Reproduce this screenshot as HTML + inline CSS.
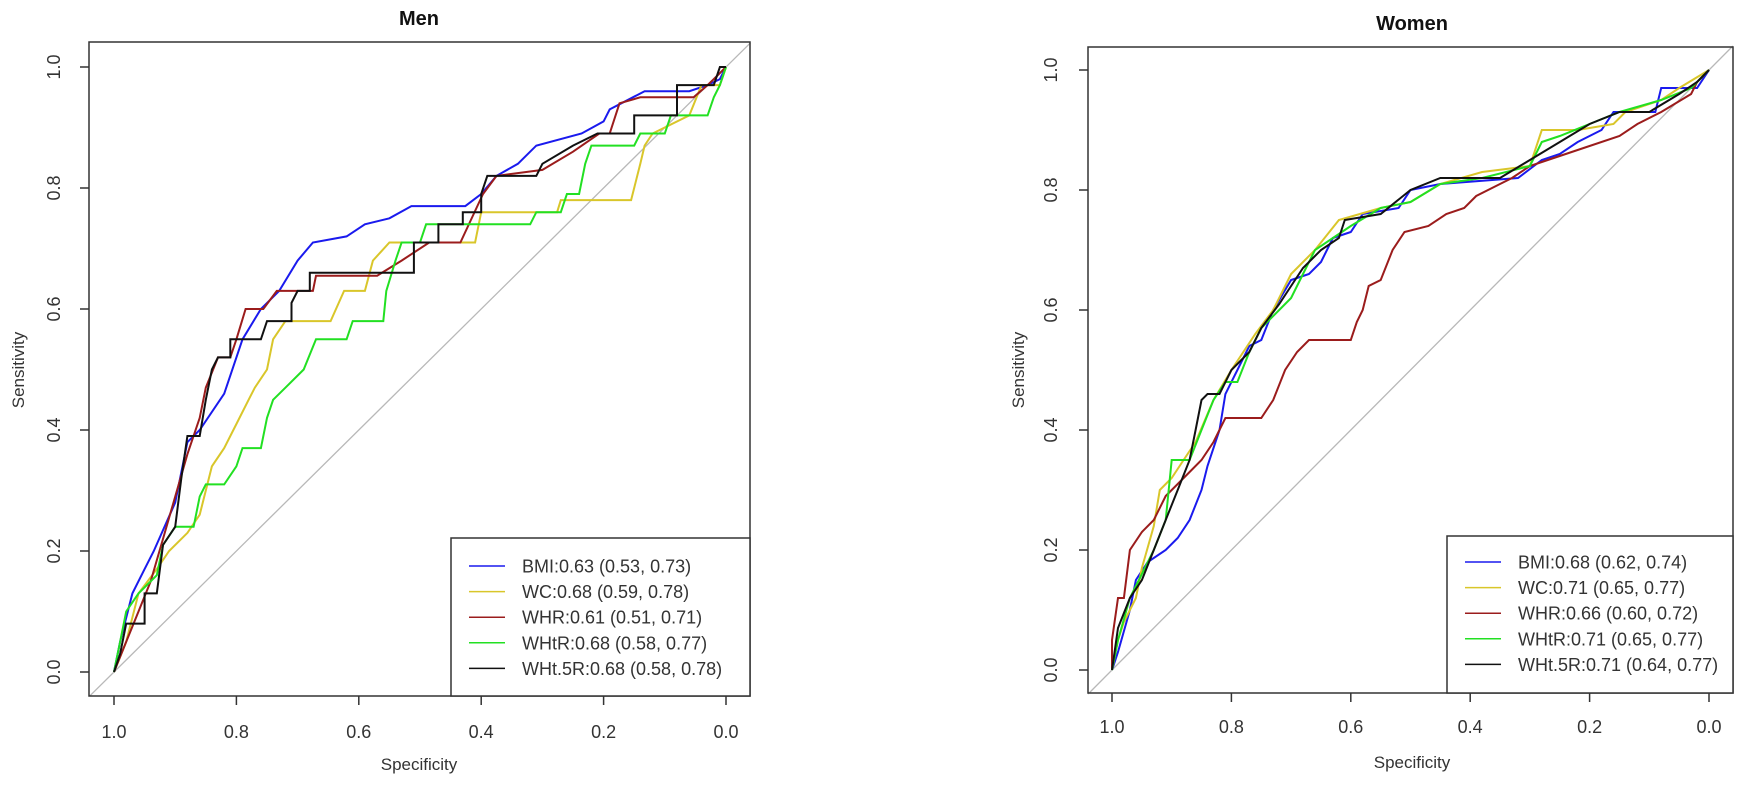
<!DOCTYPE html>
<html><head><meta charset="utf-8">
<style>
html,body{margin:0;padding:0;background:#fff;}
svg{display:block;font-family:"Liberation Sans",Arial,sans-serif;}
</style></head>
<body>
<svg id="chart" width="1741" height="786" viewBox="0 0 1741 786"></svg>
<script>
const tickValues=[1.0,0.8,0.6,0.4,0.2,0.0];
const tickLabels=["1.0","0.8","0.6","0.4","0.2","0.0"];
const seriesNames=["BMI","WC","WHR","WHtR","WHt.5R"];
const menLegend=["BMI:0.63 (0.53, 0.73)","WC:0.68 (0.59, 0.78)","WHR:0.61 (0.51, 0.71)","WHtR:0.68 (0.58, 0.77)","WHt.5R:0.68 (0.58, 0.78)"];
const womenLegend=["BMI:0.68 (0.62, 0.74)","WC:0.71 (0.65, 0.77)","WHR:0.66 (0.60, 0.72)","WHtR:0.71 (0.65, 0.77)","WHt.5R:0.71 (0.64, 0.77)"];
// [specificity, sensitivity] pairs
const menBMI=[[1,0],[0.99,0.05],[0.97,0.13],[0.95,0.17],[0.935,0.2],[0.9,0.28],[0.88,0.38],[0.86,0.4],[0.82,0.46],[0.79,0.55],[0.76,0.6],[0.73,0.63],[0.7,0.68],[0.675,0.71],[0.62,0.72],[0.59,0.74],[0.55,0.75],[0.514,0.77],[0.426,0.77],[0.4,0.79],[0.375,0.82],[0.34,0.84],[0.31,0.87],[0.236,0.89],[0.2,0.91],[0.19,0.93],[0.133,0.96],[0.06,0.96],[0.03,0.97],[0.01,0.98],[0,1]];
const menWC=[[1,0],[0.98,0.05],[0.96,0.13],[0.93,0.17],[0.91,0.2],[0.88,0.23],[0.86,0.26],[0.85,0.3],[0.84,0.34],[0.82,0.37],[0.8,0.41],[0.78,0.45],[0.77,0.47],[0.75,0.5],[0.74,0.55],[0.72,0.58],[0.646,0.58],[0.624,0.63],[0.59,0.63],[0.577,0.68],[0.55,0.71],[0.41,0.71],[0.4,0.76],[0.276,0.76],[0.27,0.78],[0.155,0.78],[0.14,0.84],[0.133,0.87],[0.12,0.89],[0.06,0.92],[0.04,0.97],[0.01,0.97],[0,1]];
const menWHR=[[1,0],[0.98,0.05],[0.96,0.1],[0.94,0.15],[0.92,0.22],[0.9,0.29],[0.88,0.36],[0.86,0.42],[0.85,0.47],[0.83,0.52],[0.81,0.52],[0.8,0.55],[0.785,0.6],[0.756,0.6],[0.734,0.63],[0.675,0.63],[0.67,0.655],[0.57,0.655],[0.53,0.68],[0.485,0.71],[0.434,0.71],[0.397,0.79],[0.375,0.82],[0.3,0.83],[0.25,0.86],[0.207,0.89],[0.19,0.89],[0.174,0.94],[0.14,0.95],[0.053,0.95],[0.03,0.97],[0.02,0.98],[0,1]];
const menWHtR=[[1,0],[0.99,0.05],[0.98,0.1],[0.96,0.13],[0.93,0.16],[0.92,0.21],[0.9,0.24],[0.87,0.24],[0.86,0.29],[0.85,0.31],[0.82,0.31],[0.8,0.34],[0.79,0.37],[0.76,0.37],[0.75,0.42],[0.74,0.45],[0.72,0.47],[0.69,0.5],[0.67,0.55],[0.62,0.55],[0.61,0.58],[0.56,0.58],[0.555,0.63],[0.54,0.68],[0.53,0.71],[0.5,0.71],[0.49,0.74],[0.32,0.74],[0.31,0.76],[0.27,0.76],[0.26,0.79],[0.24,0.79],[0.23,0.84],[0.22,0.87],[0.15,0.87],[0.14,0.89],[0.1,0.89],[0.09,0.92],[0.03,0.92],[0.02,0.95],[0.01,0.97],[0,1]];
const menWHt5R=[[1,0],[0.99,0.03],[0.98,0.08],[0.95,0.08],[0.95,0.13],[0.93,0.13],[0.92,0.21],[0.9,0.24],[0.89,0.32],[0.88,0.39],[0.86,0.39],[0.85,0.45],[0.84,0.5],[0.83,0.52],[0.81,0.52],[0.81,0.55],[0.76,0.55],[0.75,0.58],[0.71,0.58],[0.71,0.61],[0.7,0.63],[0.68,0.63],[0.68,0.66],[0.51,0.66],[0.51,0.71],[0.47,0.71],[0.47,0.74],[0.43,0.74],[0.43,0.76],[0.4,0.76],[0.4,0.79],[0.39,0.82],[0.31,0.82],[0.3,0.84],[0.25,0.87],[0.21,0.89],[0.15,0.89],[0.15,0.92],[0.08,0.92],[0.08,0.97],[0.02,0.97],[0.01,1],[0,1]];
const womenBMI=[[1,0],[0.99,0.03],[0.97,0.1],[0.96,0.15],[0.94,0.18],[0.91,0.2],[0.89,0.22],[0.87,0.25],[0.85,0.3],[0.84,0.34],[0.83,0.37],[0.82,0.4],[0.81,0.46],[0.79,0.5],[0.77,0.54],[0.75,0.55],[0.73,0.6],[0.7,0.65],[0.67,0.66],[0.65,0.68],[0.63,0.72],[0.6,0.73],[0.58,0.76],[0.52,0.77],[0.5,0.8],[0.45,0.81],[0.32,0.82],[0.28,0.85],[0.25,0.86],[0.22,0.88],[0.18,0.9],[0.16,0.93],[0.09,0.93],[0.08,0.97],[0.02,0.97],[0,1]];
const womenWC=[[1,0],[0.99,0.05],[0.98,0.08],[0.96,0.12],[0.95,0.17],[0.93,0.24],[0.92,0.3],[0.9,0.32],[0.88,0.35],[0.86,0.38],[0.83,0.45],[0.8,0.5],[0.76,0.56],[0.73,0.6],[0.7,0.66],[0.66,0.7],[0.62,0.75],[0.55,0.77],[0.5,0.78],[0.45,0.81],[0.38,0.83],[0.3,0.84],[0.28,0.9],[0.22,0.9],[0.16,0.91],[0.14,0.93],[0.08,0.95],[0.05,0.97],[0,1]];
const womenWHR=[[1,0],[1,0.05],[0.99,0.12],[0.98,0.12],[0.97,0.2],[0.95,0.23],[0.93,0.25],[0.91,0.29],[0.89,0.31],[0.87,0.33],[0.85,0.35],[0.83,0.38],[0.81,0.42],[0.75,0.42],[0.73,0.45],[0.71,0.5],[0.69,0.53],[0.67,0.55],[0.6,0.55],[0.59,0.58],[0.58,0.6],[0.57,0.64],[0.55,0.65],[0.53,0.7],[0.51,0.73],[0.47,0.74],[0.44,0.76],[0.41,0.77],[0.39,0.79],[0.35,0.81],[0.33,0.82],[0.3,0.84],[0.27,0.85],[0.24,0.86],[0.21,0.87],[0.15,0.89],[0.12,0.91],[0.08,0.93],[0.03,0.96],[0.02,0.98],[0,1]];
const womenWHtR=[[1,0],[0.99,0.05],[0.97,0.12],[0.95,0.16],[0.93,0.2],[0.91,0.25],[0.9,0.35],[0.87,0.35],[0.85,0.4],[0.83,0.45],[0.81,0.48],[0.79,0.48],[0.77,0.53],[0.75,0.57],[0.72,0.6],[0.7,0.62],[0.68,0.66],[0.66,0.7],[0.63,0.72],[0.6,0.74],[0.55,0.77],[0.5,0.78],[0.45,0.81],[0.38,0.82],[0.3,0.84],[0.28,0.88],[0.25,0.89],[0.2,0.91],[0.15,0.93],[0.08,0.95],[0.03,0.97],[0,1]];
const womenWHt5R=[[1,0],[0.99,0.07],[0.97,0.12],[0.95,0.15],[0.93,0.2],[0.91,0.25],[0.89,0.3],[0.87,0.35],[0.86,0.4],[0.85,0.45],[0.84,0.46],[0.82,0.46],[0.8,0.5],[0.77,0.53],[0.75,0.57],[0.72,0.61],[0.7,0.64],[0.68,0.67],[0.65,0.7],[0.62,0.72],[0.61,0.75],[0.55,0.76],[0.5,0.8],[0.45,0.82],[0.35,0.82],[0.3,0.85],[0.25,0.88],[0.2,0.91],[0.15,0.93],[0.1,0.93],[0.05,0.96],[0.02,0.98],[0,1]];

const colors=["#1a1aee","#d9c62a","#9b1c1c","#22e022","#111111"];
const NS="http://www.w3.org/2000/svg";
const svg=document.getElementById("chart");
function mk(tag,attrs,parent,text){const e=document.createElementNS(NS,tag);for(const k in attrs)e.setAttribute(k,attrs[k]);if(text!==undefined)e.textContent=text;(parent||svg).appendChild(e);return e;}

function panel(cfg){
  const g=mk("g",{});
  
  
  const X=s=>cfg.x0+(1-s)*cfg.xu;
  const Y=v=>cfg.y0-v*cfg.yu;
  // diagonal (clipped to box)
  const diag=mk("line",{x1:X(1.04),y1:Y(-0.04),x2:X(-0.04),y2:Y(1.04),stroke:"#b8b8b8","stroke-width":1.3},g);
  
  
  // series
  cfg.series.forEach((pts,i)=>{
    const p=mk("polyline",{points:pts.map(d=>X(d[0]).toFixed(1)+","+Y(d[1]).toFixed(1)).join(" "),fill:"none",stroke:colors[i],"stroke-width":2,"stroke-linejoin":"miter"},g);
    
    
  });
  // box
  const box=mk("rect",{x:cfg.bx0,y:cfg.by0,width:cfg.bx1-cfg.bx0,height:cfg.by1-cfg.by0,fill:"none",stroke:"#333","stroke-width":1.5},g);
  
  
  // x ticks
  tickValues.forEach((t,i)=>{
    mk("line",{x1:X(t),y1:cfg.by1,x2:X(t),y2:cfg.by1+9,stroke:"#333","stroke-width":1.5},g);
    const tl=mk("text",{x:X(t),y:cfg.xtickY,"text-anchor":"middle","font-size":18,fill:"#333"},g,tickLabels[i]);
    
    
  });
  // y ticks
  tickValues.forEach((t,i)=>{
    mk("line",{x1:cfg.bx0,y1:Y(t),x2:cfg.bx0-9,y2:Y(t),stroke:"#333","stroke-width":1.5},g);
    const tl=mk("text",{x:cfg.ytickX,y:Y(t),"text-anchor":"middle","font-size":18,fill:"#333",transform:`rotate(-90 ${cfg.ytickX} ${Y(t)})`},g,tickLabels[i]);
    
    
  });
  const title=mk("text",{x:cfg.titleX,y:cfg.titleY,"text-anchor":"middle","font-size":20,"font-weight":"bold",fill:"#111"},g,cfg.title);
  
  
  const xl=mk("text",{x:cfg.titleX,y:cfg.xlabY,"text-anchor":"middle","font-size":17,fill:"#333"},g,"Specificity");
  
  
  const yl=mk("text",{x:cfg.ylabX,y:370,"text-anchor":"middle","font-size":17,fill:"#333",transform:`rotate(-90 ${cfg.ylabX} 370)`},g,"Sensitivity");
  
  
  // legend
  const lg=mk("g",{},g);
  
  
  mk("rect",{x:cfg.lx,y:cfg.ly,width:cfg.bx1-cfg.lx,height:cfg.by1-cfg.ly,fill:"#fff",stroke:"#333","stroke-width":1.5},lg);
  cfg.legend.forEach((txt,i)=>{
    const ry=cfg.ly+cfg.lrow0+i*25.6;
    const e=mk("g",{},lg);
    
    
    mk("line",{x1:cfg.lx+18,y1:ry,x2:cfg.lx+54,y2:ry,stroke:colors[i],"stroke-width":1.5},e);
    mk("text",{x:cfg.lx+71,y:ry+6.5,"font-size":18,fill:"#333"},e,txt);
  });
}
panel({key:"men",title:"Men",x0:114,xu:612,y0:672,yu:605,bx0:89,bx1:750,by0:42,by1:696,
  xtickY:738,ytickX:60,titleX:419,titleY:25,xlabY:770,ylabX:24,lx:451,ly:538,lrow0:28,legend:menLegend,
  series:[menBMI,menWC,menWHR,menWHtR,menWHt5R]});
panel({key:"women",title:"Women",x0:1112,xu:597,y0:670,yu:600,bx0:1088,bx1:1733,by0:47,by1:693,
  xtickY:733,ytickX:1057,titleX:1412,titleY:30,xlabY:768,ylabX:1024,lx:1447,ly:536,lrow0:26,legend:womenLegend,
  series:[womenBMI,womenWC,womenWHR,womenWHtR,womenWHt5R]});
</script>
</body></html>
